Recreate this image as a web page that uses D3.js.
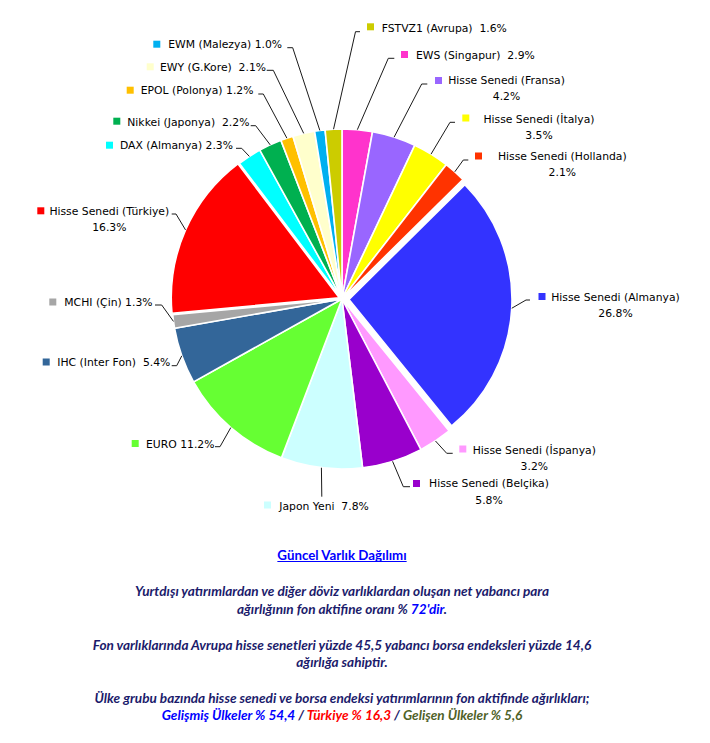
<!DOCTYPE html>
<html><head><meta charset="utf-8">
<script src="https://cdn.jsdelivr.net/npm/d3@7"></script>
<style>
html,body{margin:0;padding:0;background:#fff;}
svg{display:block;}
text{white-space:pre;}
</style></head>
<body>
<svg id="chart" width="710" height="743"></svg>
<script>
// ---------- DATA ----------
const categories = ["EWS (Singapur)", "Hisse Senedi (Fransa)", "Hisse Senedi (İtalya)", "Hisse Senedi (Hollanda)",
  "Hisse Senedi (Almanya)", "Hisse Senedi (İspanya)", "Hisse Senedi (Belçika)", "Japon Yeni", "EURO",
  "IHC (Inter Fon)", "MCHI (Çin)", "Hisse Senedi (Türkiye)", "DAX (Almanya)", "Nikkei (Japonya)",
  "EPOL (Polonya)", "EWY (G.Kore)", "EWM (Malezya)", "FSTVZ1 (Avrupa)"];
const values = [2.9, 4.2, 3.5, 2.1, 26.8, 3.2, 5.8, 7.8, 11.2, 5.4, 1.3, 16.3, 2.3, 2.2, 1.2, 2.1, 1.0, 1.6];
const percentLabels = ["2.9%", "4.2%", "3.5%", "2.1%", "26.8%", "3.2%", "5.8%", "7.8%", "11.2%", "5.4%", "1.3%",
  "16.3%", "2.3%", "2.2%", "1.2%", "2.1%", "1.0%", "1.6%"];
const titleText = "Güncel Varlık Dağılımı";
const noteLine1 = "Yurtdışı yatırımlardan ve diğer döviz varlıklardan oluşan net yabancı para";
const noteLine2 = [["ağırlığının fon aktifine oranı % ", "n"], ["72'dir", "b"], [".", "n"]];
const noteLine3 = "Fon varlıklarında Avrupa hisse senetleri yüzde 45,5 yabancı borsa endeksleri yüzde 14,6";
const noteLine4 = "ağırlığa sahiptir.";
const noteLine5 = "Ülke grubu bazında hisse senedi ve borsa endeksi yatırımlarının fon aktifinde ağırlıkları;";
const noteLine6 = [["Gelişmiş Ülkeler % 54,4", "b"], [" / ", "n"], ["Türkiye % 16,3", "r"], [" / ", "n"], ["Gelişen Ülkeler % 5,6", "g"]];

// ---------- STYLE / LAYOUT ----------
const colors = ["#FF33CC", "#9966FF", "#FFFF00", "#FF3300", "#3333FF", "#FF99FF", "#9900CC", "#CCFFFF", "#66FF33",
  "#336699", "#A6A6A6", "#FF0000", "#00FFFF", "#00B050", "#FFC000", "#FFFFCC", "#00B0F0", "#CCCC00"];
const cx = 342, cy = 299, R = 170;
const explode = {"Hisse Senedi (Almanya)": {off: 7, r: 163}, "Hisse Senedi (Türkiye)": {off: 3, r: 168}};
// label layout: marker top-left, text x/center-y, separator or two-line pct centre, leader elbow points
const layout = {
  "EWS (Singapur)": {m: [401, 51], t: [416, 55], sep: "  ", l: [[394.3, 58.3], [388.3, 58.3]]},
  "Hisse Senedi (Fransa)": {m: [435, 77], t: [447, 80.3], two: [506.5, 96.5], l: [[427.3, 84], [421.7, 84]]},
  "Hisse Senedi (İtalya)": {m: [462.3, 114.5], t: [485.7, 119], two: [539, 135.5], l: [[455, 122.3], [450, 122.3]]},
  "Hisse Senedi (Hollanda)": {m: [475, 152.5], t: [499.3, 155.7], two: [562.3, 172.3], l: [[468.3, 160], [463.3, 160]]},
  "Hisse Senedi (Almanya)": {m: [538.5, 293], t: [552.7, 296.7], two: [615.5, 313], l: [[530, 300], [526, 300]]},
  "Hisse Senedi (İspanya)": {m: [459.3, 445.5], t: [472.7, 450], two: [534.3, 466], l: [[452.7, 453.3], [446.7, 453.3]]},
  "Hisse Senedi (Belçika)": {m: [413, 480], t: [430, 483.5], two: [489, 500.3], l: [[410, 486.7], [403.3, 486.7]]},
  "Japon Yeni": {m: [264, 501.5], t: [279.3, 506], sep: "  ", l: [[321.8, 496.7]]},
  "EURO": {m: [131.7, 440], t: [146, 444], sep: " ", l: [[215, 446.7], [220, 446.7]]},
  "IHC (Inter Fon)": {m: [42.7, 358.5], t: [57.3, 362.3], sep: "  ", l: [[171.7, 365.7], [176.7, 365.7]]},
  "MCHI (Çin)": {m: [49.3, 298.5], t: [64.3, 302.3], sep: " ", l: [[155, 305], [161.7, 305]]},
  "Hisse Senedi (Türkiye)": {m: [37.3, 207.3], t: [50, 210.7], two: [109.3, 227], l: [[171.7, 214], [176, 214]]},
  "DAX (Almanya)": {m: [106, 141.7], t: [120, 145], sep: " ", l: [[236, 148.3], [241.7, 148.3]]},
  "Nikkei (Japonya)": {m: [113.3, 117.7], t: [127.3, 122.3], sep: "  ", l: [[250.7, 125.7], [255.7, 125.7]]},
  "EPOL (Polonya)": {m: [126.7, 86.7], t: [140.7, 90], sep: " ", l: [[258.3, 94], [263.3, 94]]},
  "EWY (G.Kore)": {m: [146.7, 63.3], t: [160, 67.3], sep: "  ", l: [[266.7, 70.3], [273.3, 70.3]]},
  "EWM (Malezya)": {m: [153.3, 40.7], t: [168.3, 44], sep: " ", l: [[287.3, 47.7], [292.7, 47.7]]},
  "FSTVZ1 (Avrupa)": {m: [367, 23.3], t: [381.7, 28.3], sep: "  ", l: [[360, 31.7], [355.5, 31.7]]}
};
const labelFont = "'DejaVu Sans', Verdana, sans-serif";
const labelSize = 10.8;
const noteFont = "Lato, 'Open Sans', sans-serif";
const noteSize = 13.6;
const navy = "#1B1B6B";
const runColor = {n: navy, b: "#0000FF", r: "#FF0000", g: "#4F6228"};

// ---------- CHART ----------
const svg = d3.select("#chart");
const data = categories.map((c, i) => ({name: c, value: values[i], pct: percentLabels[i], color: colors[i]}));
const pie = d3.pie().sort(null).value(d => d.value).startAngle(0).endAngle(2 * Math.PI);
const arcs = pie(data);

const g = svg.append("g").attr("transform", `translate(${cx},${cy})`);
function sliceInfo(a) {
  const ex = explode[a.data.name] || {off: 0, r: R};
  const mid = (a.startAngle + a.endAngle) / 2;
  const dx = ex.off * Math.sin(mid), dy = -ex.off * Math.cos(mid);
  return {ex, mid, dx, dy};
}
g.selectAll("path.slice").data(arcs).join("path")
  .attr("class", "slice")
  .attr("transform", a => { const s = sliceInfo(a); return `translate(${s.dx},${s.dy})`; })
  .attr("d", a => d3.arc().innerRadius(0).outerRadius(sliceInfo(a).ex.r)(a))
  .attr("fill", a => a.data.color)
  .attr("stroke", "#fff").attr("stroke-width", 1.6).attr("stroke-linejoin", "miter");

// leader lines
const lineGen = d3.line();
arcs.forEach(a => {
  const s = sliceInfo(a);
  const L = layout[a.data.name];
  const rr = s.ex.r;
  const edge = [cx + s.dx + rr * Math.sin(s.mid), cy + s.dy - rr * Math.cos(s.mid)];
  const pts = L.l.concat([edge]);
  svg.append("path").attr("d", lineGen(pts)).attr("fill", "none")
    .attr("stroke", "#1a1a1a").attr("stroke-width", 1);
});

// labels
arcs.forEach(a => {
  const L = layout[a.data.name];
  svg.append("rect").attr("x", L.m[0]).attr("y", L.m[1]).attr("width", 7).attr("height", 7)
    .attr("fill", a.data.color);
  const base = 3.9;
  if (L.two) {
    svg.append("text").attr("x", L.two[0]).attr("y", L.t[1] + base).attr("text-anchor", "middle")
      .attr("font-family", labelFont).attr("font-size", labelSize).attr("fill", "#000").text(a.data.name);
    svg.append("text").attr("x", L.two[0]).attr("y", L.two[1] + base).attr("text-anchor", "middle")
      .attr("font-family", labelFont).attr("font-size", labelSize).attr("fill", "#000").text(a.data.pct);
  } else {
    svg.append("text").attr("x", L.t[0]).attr("y", L.t[1] + base)
      .attr("font-family", labelFont).attr("font-size", labelSize).attr("fill", "#000")
      .text(a.data.name + L.sep + a.data.pct);
  }
});

// ---------- NOTES ----------
const midX = 342;
const title = svg.append("text").attr("x", midX).attr("y", 559.5).attr("text-anchor", "middle")
  .attr("font-family", noteFont).attr("font-weight", "bold").attr("font-size", 13.3)
  .attr("fill", "#0000FF").text(titleText);
const tw = title.node().getComputedTextLength();
svg.append("line").attr("x1", midX - tw / 2).attr("x2", midX + tw / 2).attr("y1", 561.5).attr("y2", 561.5)
  .attr("stroke", "#0000FF").attr("stroke-width", 1);

function note(y, content) {
  const t = svg.append("text").attr("x", midX).attr("y", y).attr("text-anchor", "middle")
    .attr("font-family", noteFont).attr("font-weight", "bold").attr("font-style", "italic")
    .attr("font-size", noteSize).attr("fill", navy);
  if (typeof content === "string") t.text(content);
  else content.forEach(([s, c]) => t.append("tspan").attr("fill", runColor[c]).text(s));
}
note(595.5, noteLine1);
note(614, noteLine2);
note(649.5, noteLine3);
note(666.5, noteLine4);
note(703, noteLine5);
note(720, noteLine6);
</script>
</body></html>
